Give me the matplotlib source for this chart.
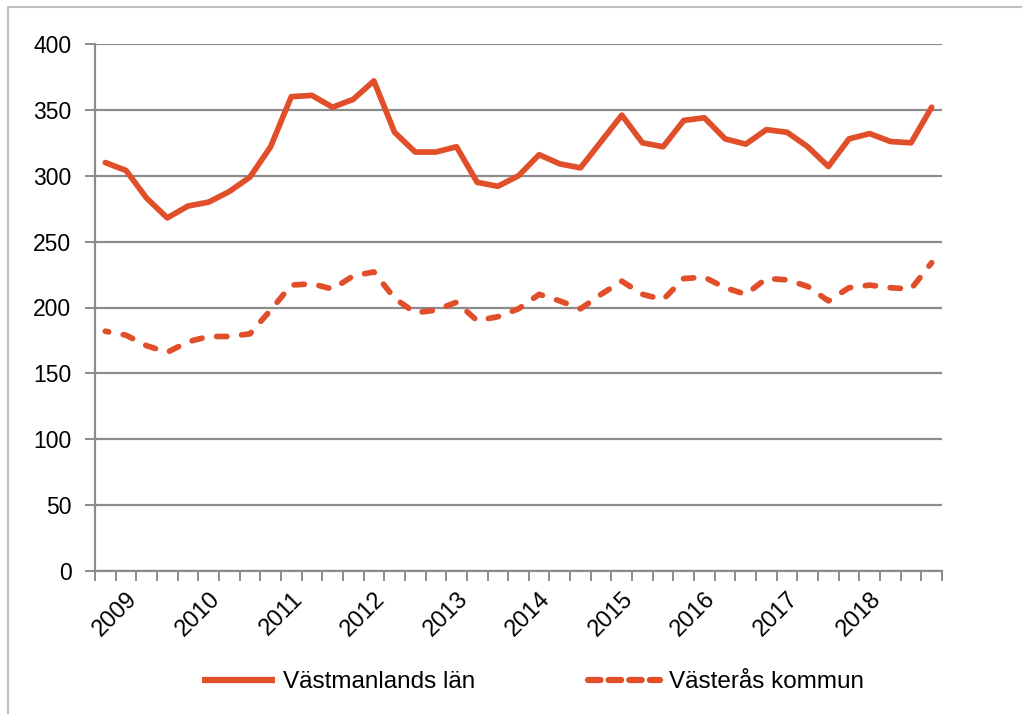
import matplotlib
matplotlib.use("Agg")

import matplotlib.pyplot as plt
from matplotlib.lines import Line2D

# data (kvartal, 2008 K4 - 2018 K4)
quarter_labels = ["",
                  "2009", "", "", "",
                  "2010", "", "", "",
                  "2011", "", "", "",
                  "2012", "", "", "",
                  "2013", "", "", "",
                  "2014", "", "", "",
                  "2015", "", "", "",
                  "2016", "", "", "",
                  "2017", "", "", "",
                  "2018", "", "", ""]
vastmanland = [310, 304, 283, 268, 277, 280, 288, 299, 322, 360, 361, 352, 358, 372,
               333, 318, 318, 322, 295, 292, 300, 316, 309, 306, 326, 346, 325, 322,
               342, 344, 328, 324, 335, 333, 322, 307, 328, 332, 326, 325, 352]
vasteras = [182, 179, 171, 166, 174, 178, 178, 180, 198, 217, 218, 214, 224, 227,
            207, 196, 198, 204, 190, 193, 199, 210, 205, 199, 210, 220, 210, 206,
            222, 223, 215, 210, 222, 221, 216, 205, 215, 217, 215, 214, 234]
series_names = ["Västmanlands län", "Västerås kommun"]
y_ticks = [0, 50, 100, 150, 200, 250, 300, 350, 400]

RED = "#E04E2A"
GRID = "#8C8C8C"

plt.rcParams["font.family"] = ["Liberation Sans", "DejaVu Sans"]

fig = plt.figure(figsize=(10.22, 7.14), dpi=100)
ax = fig.add_axes([95 / 1022, 1 - 571 / 714, (942 - 95) / 1022, (571 - 44) / 714])

x = list(range(len(quarter_labels)))
ax.plot(x, vastmanland, color=RED, lw=4.1, solid_capstyle="round",
        solid_joinstyle="round", label=series_names[0])
ax.plot(x, vasteras, color=RED, lw=4.1, linestyle=(1.2, (1.8, 2.6)),
        dash_capstyle="round", dash_joinstyle="round", label=series_names[1])

ax.set_xlim(-0.5, len(x) - 0.5)
ax.set_ylim(0, 400)
ax.set_yticks(y_ticks)
ax.tick_params(axis="y", length=7, width=1.4, color=GRID, labelsize=16.5, pad=10)
ax.yaxis.grid(True, color=GRID, lw=1.6)
ax.set_axisbelow(True)

# årsetiketter vid K1, kvartalsstreck mellan kategorierna
lab_pos = [i for i, s in enumerate(quarter_labels) if s]
ax.set_xticks(lab_pos)
ax.set_xticklabels([quarter_labels[i] for i in lab_pos], rotation=45,
                   ha="right", rotation_mode="anchor", fontsize=17)
ax.tick_params(axis="x", length=0, pad=12)
ax.set_xticks([i - 0.5 for i in range(len(x) + 1)], minor=True)
ax.tick_params(axis="x", which="minor", length=7, width=1.4, color=GRID)

for s in ["top", "right"]:
    ax.spines[s].set_visible(False)
for s in ["left", "bottom"]:
    ax.spines[s].set_color(GRID)
    ax.spines[s].set_linewidth(1.6)

handles = [Line2D([], [], color=RED, lw=4.5, solid_capstyle="butt"),
           Line2D([], [], color=RED, lw=4.5, dashes=(2.0, 1.3), dash_capstyle="round")]
fig.legend(handles, series_names, loc="center", bbox_to_anchor=(533 / 1022, 32 / 714),
           ncol=2, frameon=False, fontsize=17.5, handlelength=3.0, handletextpad=0.35,
           columnspacing=4.6)

# ram runt diagramytan (syns upptill och till vänster)
fig.add_artist(Line2D([8 / 1022, 8 / 1022, 1.0], [0.0, 1 - 7 / 714, 1 - 7 / 714],
                      transform=fig.transFigure, color="#C0C0C0", lw=1.5))

fig.savefig("out.png", dpi=100)
